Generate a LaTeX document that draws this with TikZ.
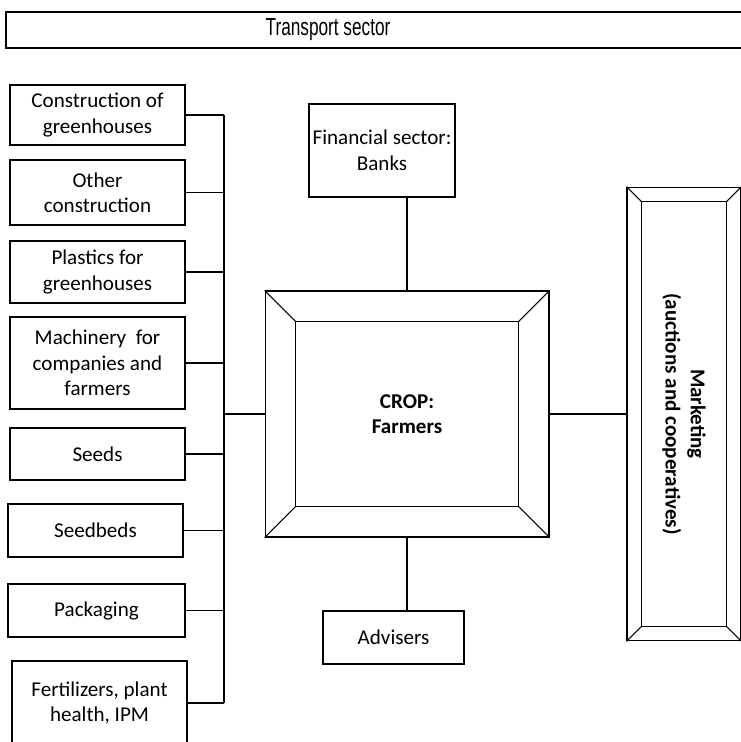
\documentclass[tikz,border=0pt]{standalone}
\usepackage{fontspec}
\setmainfont{Carlito}
\newfontfamily\narrowfont[FakeStretch=0.7]{Liberation Sans}
\usetikzlibrary{calc}

\begin{document}
\begin{tikzpicture}[x=0.02cm, y=-0.02cm, line width=0.6pt, font=\fontsize{12}{14.5}\selectfont,
	box/.style = {draw, align=center, minimum width=3.5cm, inner sep=2pt},
	bold/.style = {font=\fontsize{12}{14.5}\selectfont\bfseries, align=center}]
	\useasboundingbox (0,0) rectangle (740,742);
	% transport sector banner, running off the right edge
	\draw (6,12) rectangle (760,48);
	\node[font=\fontsize{14}{16}\selectfont\narrowfont] (transport) at (328,30) {Transport sector};
	% suppliers on the left
	\node[box, minimum height=1.2cm] (constr) at (97.5,115) {Construction of\\greenhouses};
	\node[box, minimum height=1.3cm] (other) at (97.5,192.5) {Other\\construction};
	\node[box, minimum height=1.24cm] (plastic) at (97.5,272) {Plastics for\\greenhouses};
	\node[box, minimum height=1.84cm] (machin) at (97.5,363) {Machinery~ for\\companies and\\farmers};
	\node[box, minimum height=1.04cm] (seeds) at (97.5,454) {Seeds};
	\node[box, minimum height=1.06cm] (seedbed) at (95.5,530.5) {Seedbeds};
	\node[box, minimum height=1.06cm, minimum width=3.54cm] (pack) at (96.5,610.5) {Packaging};
	\node[box, minimum height=1.68cm] (fert) at (99.5,703) {Fertilizers, plant\\health, IPM};
	% the farmers in the middle
	\node[draw, minimum width=5.68cm, minimum height=4.92cm, bold] (crop) at (407,414) {CROP:\\Farmers};
	\draw ($(crop.north west)+(31,31)$) rectangle ($(crop.south east)+(-31,-31)$);
	\draw (crop.north west) -- ++(31,31);
	\draw (crop.north east) -- ++(-31,31);
	\draw (crop.south west) -- ++(31,-31);
	\draw (crop.south east) -- ++(-31,-31);
	\node[box, minimum width=2.92cm, minimum height=1.86cm] (bank) at (382,150.5) {Financial sector:\\Banks};
	\node[box, minimum width=2.82cm, minimum height=1.06cm] (adv) at (393.5,637.5) {Advisers};
	% marketing on the right
	\node[draw, minimum width=2.28cm, minimum height=9.08cm] (market) at (684,414) {};
	\draw ($(market.north west)+(15,15)$) rectangle ($(market.south east)+(-15,-15)$);
	\draw (market.north west) -- ++(15,15);
	\draw (market.north east) -- ++(-15,15);
	\draw (market.south west) -- ++(15,-15);
	\draw (market.south east) -- ++(-15,-15);
	\node[bold, rotate=-90] (mtext) at (market) {Marketing\\(auctions and cooperatives)};
	% connections
	\coordinate (bus) at (224,115);
	\coordinate (busend) at (224,703);
	\draw (bus) -- (busend);
	\draw (constr.east) -- (constr.east -| bus);
	\draw (other.east) -- (other.east -| bus);
	\draw (plastic.east) -- (plastic.east -| bus);
	\draw (machin.east) -- (machin.east -| bus);
	\draw (seeds.east) -- (seeds.east -| bus);
	\draw (seedbed.east) -- (seedbed.east -| bus);
	\draw (pack.east) -- (pack.east -| bus);
	\draw (fert.east) -- (fert.east -| bus);
	\draw (crop.west) -- (crop.west -| bus);
	\draw (crop.north) -- (crop.north |- bank.south);
	\draw (crop.south) -- (crop.south |- adv.north);
	\draw (crop.east) -- (market.west);
\end{tikzpicture}
\end{document}
